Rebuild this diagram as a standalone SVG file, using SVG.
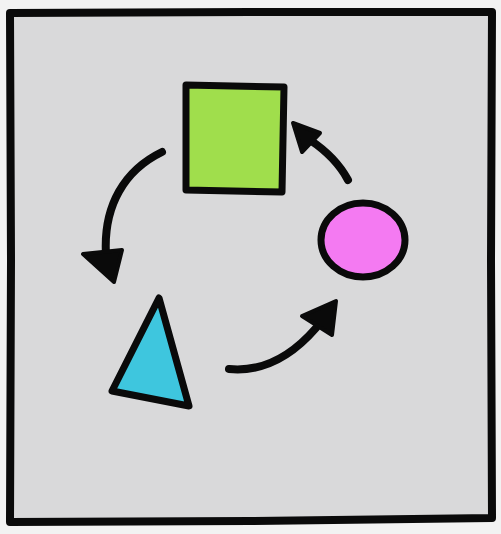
<svg xmlns="http://www.w3.org/2000/svg" width="501" height="534" viewBox="0 0 501 534">
<style>
.ol{stroke:#0a0a0a;stroke-width:7;stroke-linejoin:round;stroke-linecap:round}
.fr{stroke:#0a0a0a;stroke-width:8;stroke-linejoin:round}
.cn{fill:none;stroke:#0a0a0a;stroke-width:8;stroke-linecap:round}
.hd{fill:#0a0a0a;stroke:#0a0a0a;stroke-width:4;stroke-linejoin:round}
</style>
<rect width="501" height="534" fill="#f2f2f2"/>
<g id="frame">
<path class="fr" d="M10,13 L250,12 L492,12 L491,260 L492,518 L250,521 L10,522 L11,260 Z" fill="#d9d9da"/>
</g>
<g id="square">
<path class="ol" d="M186,85 L284,87 L282,192 L186,190 Z" fill="#a0de4c"/>
</g>
<g id="circle">
<ellipse class="ol" cx="363" cy="240" rx="42" ry="37" fill="#f47af2"/>
</g>
<g id="triangle">
<path class="ol" d="M159,298 L189,406 L112,391 Z" fill="#3ec6de"/>
</g>
<g id="connectors">
<path class="cn" d="M162,152 C125,170 103,205 106,255"/>
<path class="hd" d="M83,254 L122,250 L114,282 Z"/>
<path class="cn" d="M229,369 C260,372 290,358 316,328"/>
<path class="hd" d="M302,316 L336,301 L332,335 Z"/>
<path class="cn" d="M348,180 C340,165 325,150 310,140"/>
<path class="hd" d="M293,123 L320,133 L302,152 Z"/>
</g>
</svg>
